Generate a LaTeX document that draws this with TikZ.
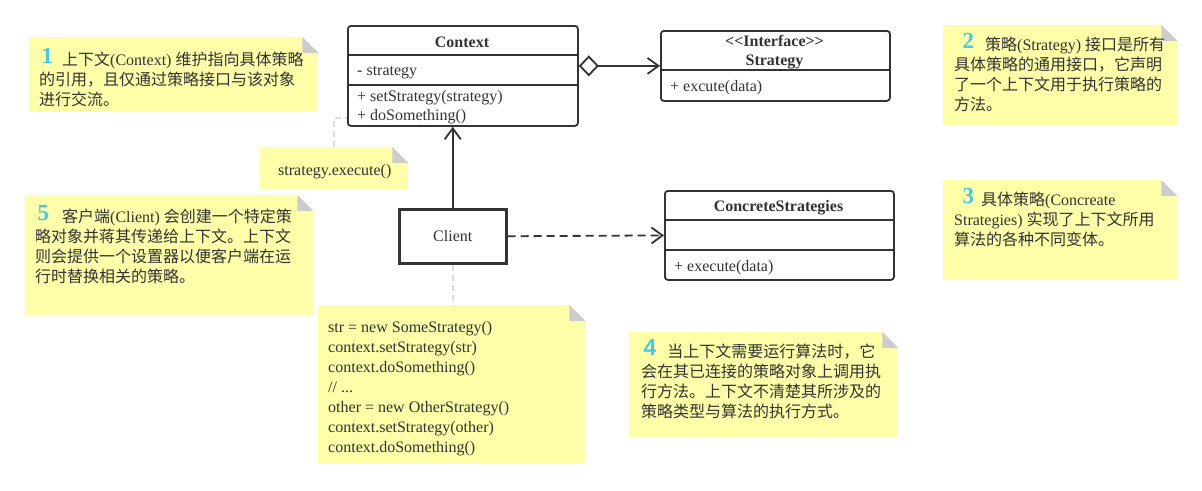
\documentclass[tikz,border=0pt]{standalone}
\usepackage{fontspec}
\setmainfont{Liberation Serif}
\newfontfamily\cjk{Noto Sans CJK SC}
\newfontfamily\numsans{Liberation Sans}
\usetikzlibrary{arrows.meta}

\definecolor{notefill}{RGB}{255,255,170}
\definecolor{foldgrey}{RGB}{204,204,204}
\definecolor{inkgrey}{RGB}{51,51,51}
\definecolor{numcyan}{RGB}{72,200,226}
\definecolor{linkgrey}{RGB}{221,221,221}

% gap before, number, gap after
\newcommand{\notenum}[4][]{\hspace*{#2pt}\smash{\raisebox{2pt}{\fontsize{23}{23}\selectfont\bfseries#1\color{numcyan}#3}}\hspace*{#4pt}}

\begin{document}
\begin{tikzpicture}[x=1pt, y=-1pt, color=inkgrey,
    font=\fontsize{16}{20}\selectfont,
    classbox/.style={draw, line width=1.8pt, rounded corners=3pt, anchor=north west, inner sep=0pt},
    clientbox/.style={draw, line width=2.5pt, anchor=north west, inner sep=0pt},
    notebox/.style={fill=notefill, anchor=north west, inner sep=0pt},
    notetext/.style={anchor=north west, inner sep=0pt, align=left},
    member/.style={anchor=base west, inner sep=0pt},
    classtitle/.style={anchor=base, inner sep=0pt, font=\fontsize{16}{20}\selectfont\bfseries},
    link/.style={line width=1.8pt},
    hint/.style={draw=linkgrey, line width=2pt, dash pattern=on 6pt off 4pt},
    >={Straight Barb[length=11pt, width=16pt]}]
    \fill[white] (0,0) rectangle (1202,490);
    \useasboundingbox (0,0) rectangle (1202,490);

    % notes
    \node[notebox, minimum width=289, minimum height=75] (note1) at (29,37) {};
    \node[notebox, minimum width=234, minimum height=100] (note2) at (943,25) {};
    \node[notebox, minimum width=234, minimum height=100] (note3) at (943,180) {};
    \node[notebox, minimum width=269, minimum height=105] (note4) at (629,332) {};
    \node[notebox, minimum width=288, minimum height=121] (note5) at (25,195) {};
    \node[notebox, minimum width=148, minimum height=42] (noteexec) at (260,147) {};
    \node[notebox, minimum width=267, minimum height=158] (notecode) at (318,305) {};
    \foreach \n in {note1,note2,note3,note4,note5,noteexec,notecode} {
        \fill[white] (\n.north east) -- ++(-16,0) -- ++(16,16) -- cycle;
        \fill[foldgrey] ([xshift=-16pt]\n.north east) -- ++(0,16) -- ++(16,0) -- cycle;
    }

    \node[notetext] (text1) at (39,51.5) {\notenum{2.5}{1}{9}{\cjk 上下文}(Context) {\cjk 维护指向具体策略}\\
        {\cjk 的引用，且仅通过策略接口与该对象}\\
        {\cjk 进行交流。}};
    \node[notetext] (text2) at (954,36.5) {\notenum{8.5}{2}{11}{\cjk 策略}(Strategy) {\cjk 接口是所有}\\
        {\cjk 具体策略的通用接口，它声明}\\
        {\cjk 了一个上下文用于执行策略的}\\
        {\cjk 方法。}};
    \node[notetext] (text3) at (954,191.5) {\notenum{8.5}{3}{7}{\cjk 具体策略}(Concreate\\
        Strategies) {\cjk 实现了上下文所用}\\
        {\cjk 算法的各种不同变体。}};
    \node[notetext] (text4) at (641,343.5) {\notenum[\numsans]{2.5}{4}{11}{\cjk 当上下文需要运行算法时，它}\\
        {\cjk 会在其已连接的策略对象上调用执}\\
        {\cjk 行方法。上下文不清楚其所涉及的}\\
        {\cjk 策略类型与算法的执行方式。}};
    \node[notetext] (text5) at (35,208.5) {\notenum{2.5}{5}{13}{\cjk 客户端}(Client) {\cjk 会创建一个特定策}\\
        {\cjk 略对象并蒋其传递给上下文。上下文}\\
        {\cjk 则会提供一个设置器以便客户端在运}\\
        {\cjk 行时替换相关的策略。}};
    \node[member] (textexec) at (278,175) {strategy.execute()};
    \node[notetext] (textcode) at (328,321) {str = new SomeStrategy()\\
        context.setStrategy(str)\\
        context.doSomething()\\
        // ...\\
        other = new OtherStrategy()\\
        context.setStrategy(other)\\
        context.doSomething()};

    % classes
    \node[classbox, minimum width=230, minimum height=100] (context) at (347,25) {};
    \draw[link] (context.west |- 0,55) -- (context.east |- 0,55);
    \draw[link] (context.west |- 0,85) -- (context.east |- 0,85);
    \node[classtitle] (contexttitle) at (462,47) {Context};
    \node[member] (ctxfield) at (357,75) {- strategy};
    \node[member] (ctxset) at (357,101) {+ setStrategy(strategy)};
    \node[member] (ctxdo) at (357,120) {+ doSomething()};

    \node[classbox, minimum width=229, minimum height=70] (strategy) at (660,30) {};
    \draw[link] (strategy.west |- 0,70) -- (strategy.east |- 0,70);
    \node[classtitle] (stratstereo) at (774.5,46) {\textless\kern0pt\textless\kern0pt Interface\textgreater\kern0pt\textgreater};
    \node[classtitle] (strattitle) at (774.5,65) {Strategy};
    \node[member] (stratexec) at (670,91) {+ excute(data)};

    \node[classbox, minimum width=229, minimum height=89] (concrete) at (664,190) {};
    \draw[link] (concrete.west |- 0,220) -- (concrete.east |- 0,220);
    \draw[link] (concrete.west |- 0,250) -- (concrete.east |- 0,250);
    \node[classtitle] (concretetitle) at (778.5,211) {ConcreteStrategies};
    \node[member] (concreteexec) at (674,271) {+ execute(data)};

    \node[clientbox, minimum width=107, minimum height=54] (client) at (398,208) {Client};

    % connectors
    \draw[link, {Diamond[open, length=20pt, width=21pt]}->] (strategy.west -| context.east) -- (strategy.west);
    \draw[link, ->] (client.north) -- (client.north |- context.south);
    \draw[link, dash pattern=on 8pt off 5pt, ->] (client.east) -- (concrete.west);
    \draw[hint] (client.south) -- (client.south |- notecode.north);
    \draw[hint] (noteexec.north) |- ([yshift=-42pt]context.west);
\end{tikzpicture}
\end{document}
